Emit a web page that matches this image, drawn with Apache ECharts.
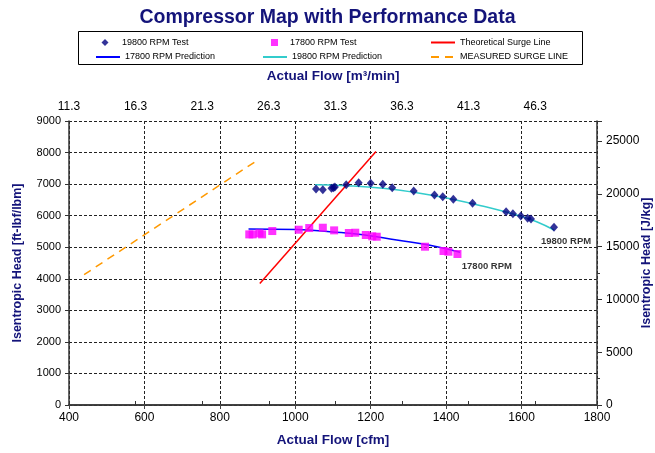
<!DOCTYPE html>
<html>
<head>
<meta charset="utf-8">
<script src="https://cdn.jsdelivr.net/npm/echarts@6/dist/echarts.min.js"></script>
<style>html,body{margin:0;padding:0;background:#fff}#c{width:655px;height:453px}</style>
</head>
<body>
<div id="c"></div>
<script>
// ---- data (flow in cfm, head in ft-lbf/lbm) ----
const test19800 = [[1055,6844],[1073,6823],[1096,6866],[1101,6886],[1105,6907],[1135,6981],[1168,7045],[1200,7024],[1232,6992],[1257,6886],[1314,6781],[1369,6654],[1391,6600],[1419,6517],[1470,6390],[1559,6126],[1577,6062],[1598,5989],[1616,5915],[1625,5894],[1686,5630]];
const test17800 = [[878,5407],[887,5407],[905,5440],[912,5407],[939,5513],[1009,5555],[1037,5608],[1073,5618],[1103,5534],[1142,5450],[1159,5460],[1187,5387],[1204,5345],[1216,5333],[1344,5016],[1393,4880],[1406,4858],[1430,4785]];
const pred17800 = [[876,5580],[1004,5560],[1092,5491],[1180,5397],[1269,5228],[1357,5060],[1437,4838]];
const pred19800 = [[1052,6981],[1136,6950],[1233,6866],[1322,6728],[1410,6538],[1499,6296],[1587,6020],[1640,5808],[1686,5545]];
const theoSurge = [[906,3850],[1214,8030]];
const measSurge = [[440,4130],[900,7760]];
const speedLabels = [{name:'19800 RPM', value:[1718,5196]},{name:'17800 RPM', value:[1508,4383]}];
const topTickLabels = ['11.3','16.3','21.3','26.3','31.3','36.3','41.3','46.3'];
const cfmMin = 400, cfmMax = 1800;
const m3PerCfm = 0.0283168;
const jkgPerFtlbf = 2.98907;
const headMax = 9000;

const FONT = 'Liberation Sans, Arial, sans-serif';
const NAVY = '#14147a';
const chart = echarts.init(document.getElementById('c'));

function legendLine(name, left, cy){
  return {
    data:[{name:name, itemStyle:{opacity:0}}], left:left, top:cy-5.5, padding:0, itemWidth:24, itemHeight:7, itemGap:0,
    textStyle:{fontFamily:FONT, fontSize:9, color:'#000', lineHeight:11}, selectedMode:false
  };
}
function legendMark(name, left, cy, icon, padL){
  return {
    data:[{name:name, icon:icon}], left:left, top:cy-5.5, padding:0, itemWidth:7, itemHeight:7, itemGap:0,
    textStyle:{fontFamily:FONT, fontSize:9, color:'#000', lineHeight:11, padding:[0,0,0,padL]}, selectedMode:false
  };
}
const plain = v => String(Math.round(v));

const option = {
  animation:false,
  backgroundColor:'#fff',
  title:{text:'Compressor Map with Performance Data', left:'center', top:3,
    textStyle:{fontFamily:FONT, fontSize:19.5, fontWeight:'bold', color:NAVY}},
  legend:[
    legendMark('19800 RPM Test', 101.5, 42.5, 'diamond', 8.5),
    legendLine('17800 RPM Prediction', 95, 57),
    legendMark('17800 RPM Test', 271, 42.5, 'rect', 7),
    legendLine('19800 RPM Prediction', 262, 57),
    legendLine('Theoretical Surge Line', 430, 42.5),
    legendLine('MEASURED SURGE LINE', 430, 57)
  ],
  graphic:[{type:'rect', shape:{x:78.5, y:31.5, width:504, height:33}, style:{fill:'none', stroke:'#000', lineWidth:1}, z:-1}],
  grid:{left:69, right:58, top:121, bottom:48, containLabel:false, outerBoundsMode:'none'},
  xAxis:[
    {type:'value', position:'bottom', min:cfmMin, max:cfmMax, interval:200,
      name:'Actual Flow [cfm]', nameLocation:'middle', nameGap:28, nameMoveOverlap:false,
      nameTextStyle:{fontFamily:FONT, fontSize:13.5, fontWeight:'bold', color:NAVY},
      axisLine:{show:true, lineStyle:{color:'#444', width:1.5}},
      axisTick:{show:true, inside:false, length:4, lineStyle:{color:'#444'}},
      axisLabel:{fontFamily:FONT, fontSize:12, color:'#000', margin:7, formatter:plain},
      splitLine:{show:true, lineStyle:{color:'#222', type:[3,2], width:1}}},
    {type:'value', position:'top', min:0, max:(cfmMax-cfmMin)*m3PerCfm, interval:5,
      name:'Actual Flow [m³/min]', nameLocation:'middle', nameGap:38, nameMoveOverlap:false,
      nameTextStyle:{fontFamily:FONT, fontSize:13.5, fontWeight:'bold', color:NAVY},
      axisLine:{show:true, lineStyle:{color:'#333', width:1.5}},
      axisTick:{show:true, inside:false, length:4, lineStyle:{color:'#333'}},
      axisLabel:{fontFamily:FONT, fontSize:12, color:'#000', margin:8, showMaxLabel:false,
        formatter:function(v){const i=Math.round(v/5); return Math.abs(v-i*5)<1e-6 && topTickLabels[i]!==undefined ? topTickLabels[i] : '';}},
      splitLine:{show:false}}
  ],
  yAxis:[
    {type:'value', position:'left', min:0, max:headMax, interval:1000,
      name:'Isentropic Head [ft-lbf/lbm]', nameLocation:'middle', nameGap:45, nameMoveOverlap:false,
      nameTextStyle:{fontFamily:FONT, fontSize:12.5, fontWeight:'bold', color:NAVY},
      axisLine:{show:true, lineStyle:{color:'#333', width:1.5}},
      axisTick:{show:true, inside:false, length:4, lineStyle:{color:'#333'}},
      axisLabel:{fontFamily:FONT, fontSize:11, color:'#000', margin:8, formatter:plain},
      splitLine:{show:true, lineStyle:{color:'#222', type:[3,2], width:1}}},
    {type:'value', position:'right', min:0, max:headMax*jkgPerFtlbf, interval:5000,
      name:'Isentropic Head [J/kg]', nameLocation:'middle', nameGap:43, nameMoveOverlap:false,
      nameTextStyle:{fontFamily:FONT, fontSize:12.5, fontWeight:'bold', color:NAVY},
      axisLine:{show:true, lineStyle:{color:'#333', width:1.5}},
      axisTick:{show:true, inside:false, length:5, lineStyle:{color:'#333'}},
      minorTick:{show:true, splitNumber:2, length:3, lineStyle:{color:'#333'}},
      axisLabel:{fontFamily:FONT, fontSize:12, color:'#000', margin:9, showMaxLabel:false, formatter:plain},
      splitLine:{show:false}}
  ],
  series:[
    {name:'17800 RPM Prediction', type:'line', data:pred17800, smooth:true, symbol:'none',
      lineStyle:{color:'#0000ff', width:1.5}, itemStyle:{color:'#0000ff'}, z:2},
    {name:'19800 RPM Prediction', type:'line', data:pred19800, smooth:true, symbol:'none',
      lineStyle:{color:'#33cccc', width:1.5}, itemStyle:{color:'#33cccc'}, z:2},
    {name:'Theoretical Surge Line', type:'line', data:theoSurge, symbol:'none',
      lineStyle:{color:'#ff0000', width:1.5}, itemStyle:{color:'#ff0000'}, z:3},
    {name:'MEASURED SURGE LINE', type:'line', data:measSurge, symbol:'none',
      lineStyle:{color:'#ff9900', width:1.5, type:[8,6]}, itemStyle:{color:'#ff9900'}, z:2},
    {name:'19800 RPM Test', type:'scatter', data:test19800, symbol:'diamond', symbolSize:[8,9],
      itemStyle:{color:'#000080'}, z:4},
    {name:'17800 RPM Test', type:'scatter', data:test17800, symbol:'rect', symbolSize:8,
      itemStyle:{color:'#ff00ff'}, z:4},
    {name:'labels', type:'scatter', data:speedLabels, symbolSize:0, silent:true,
      label:{show:true, position:'inside', formatter:'{b}', fontFamily:FONT, fontSize:9.5, fontWeight:'bold', color:'#000'}, z:5}
  ]
};
chart.setOption(option);
</script>
</body>
</html>
